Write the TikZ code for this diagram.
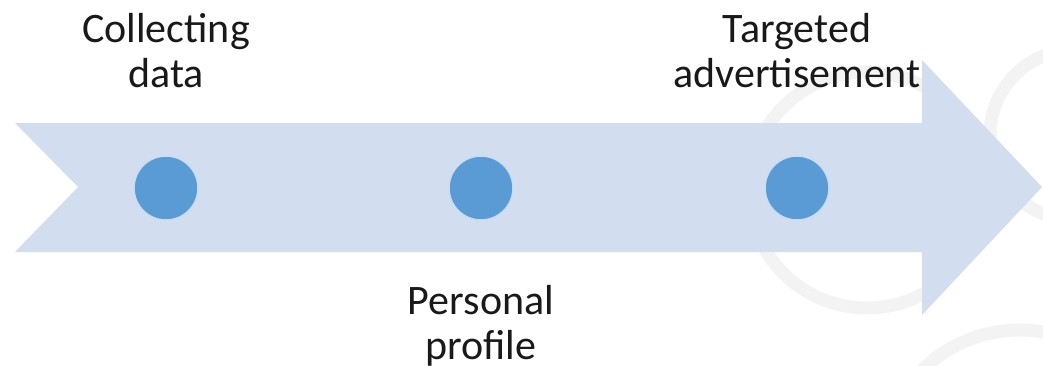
\documentclass[tikz,border=0pt]{standalone}
\usepackage{fontspec}
\setmainfont{Carlito}
\usetikzlibrary{positioning}

\definecolor{arrowblue}{HTML}{D2DEEF}
\definecolor{dotblue}{HTML}{5B9BD5}
\definecolor{dotrim}{HTML}{C9DDF2}
\definecolor{markgray}{HTML}{F3F3F3}

\begin{document}
\begin{tikzpicture}[x=1pt,y=-1pt,
  dot/.style={circle,fill=dotblue,draw=dotrim,line width=1.5pt,minimum size=64pt,inner sep=0pt,outer sep=0pt},
  steplabel/.style={font=\fontsize{42}{45}\selectfont,text=black!90,align=center,inner sep=0pt}]

  % Frame
  \useasboundingbox (0,0) rectangle (1043,365);
  \clip (0,0) rectangle (1043,365);

  % Faint watermark rings
  \draw[markgray,line width=13pt] (867,190) circle (118pt);
  \draw[markgray,line width=13pt] (1075,135) circle (85pt);
  \draw[markgray,line width=13pt] (1020,470) circle (140pt);

  % Arrow
  \fill[arrowblue] (15,123) -- (922,123) -- (922,60) -- (1042,187)
    -- (922,315) -- (922,252) -- (15,252) -- (78,187) -- cycle;

  % Steps
  \node[dot] (collect) at (166,188) {};
  \node[dot] (profile) at (481,188) {};
  \node[dot] (target) at (797,188) {};

  % Labels (base = last line)
  \node[steplabel,above=69pt of collect,anchor=base] (collectlabel) {Collecting\\data};
  \node[steplabel,below=139pt of profile,anchor=base] (profilelabel) {Personal\\profile};
  \node[steplabel,above=69pt of target,anchor=base] (targetlabel) {Targeted\\advertisement};

\end{tikzpicture}
\end{document}
